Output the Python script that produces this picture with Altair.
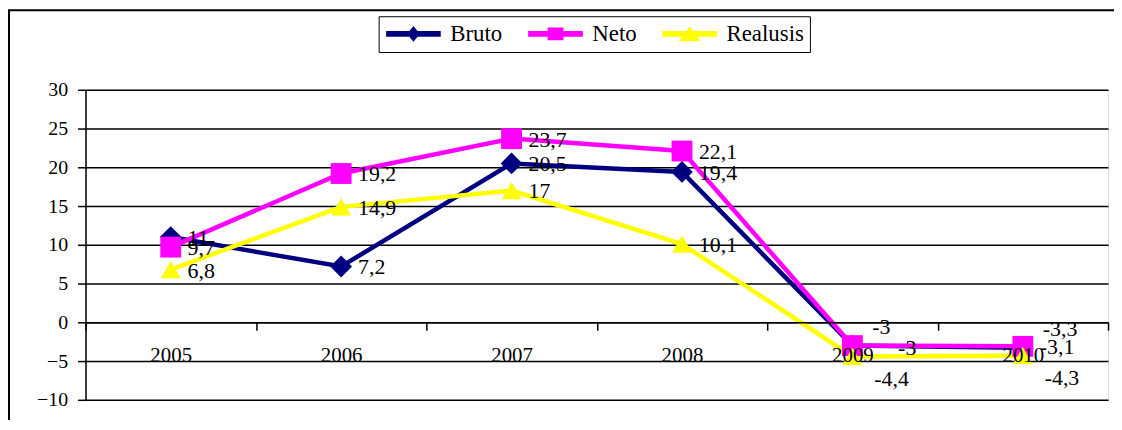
import altair as alt
import pandas as pd

years = ["2005", "2006", "2007", "2008", "2009", "2010"]
series = ["Bruto", "Neto", "Realusis"]
bruto = [11, 7.2, 20.5, 19.4, -3, -3.3]
neto = [9.7, 19.2, 23.7, 22.1, -3, -3.1]
realusis = [6.8, 14.9, 17, 10.1, -4.4, -4.3]
colors = ["#000080", "#FF00FF", "#FFFF00"]
y_ticks = [-10, -5, 0, 5, 10, 15, 20, 25, 30]

# label placement style (Excel-like nudges)
label_place = {
    ("Bruto", "2009"): "above", ("Bruto", "2010"): "above",
    ("Neto", "2009"): "farright",
    ("Realusis", "2009"): "below", ("Realusis", "2010"): "below",
}

rows = []
for name, vals in zip(series, [bruto, neto, realusis]):
    for yr, v in zip(years, vals):
        rows.append({"series": name, "year": yr, "value": v,
                     "place": label_place.get((name, yr), "right")})
df = pd.DataFrame(rows)
legend_df = pd.DataFrame({"series": series})

W, H = 1029, 312
FONT = "Liberation Serif"

x_enc = alt.X("year:N", sort=years,
              scale=alt.Scale(type="band", paddingInner=0, paddingOuter=0),
              axis=alt.Axis(title=None, orient="bottom", offset=-78, grid=False,
                            domainColor="black", domainWidth=1.5,
                            tickColor="black", tickWidth=1.5, tickSize=8,
                            tickBand="extent", labelAngle=0,
                            labelFont=FONT, labelFontSize=21, labelColor="black",
                            labelPadding=14, zindex=1))
y_enc = alt.Y("value:Q",
              scale=alt.Scale(domain=[-10, 30], nice=False, zero=False),
              axis=alt.Axis(title=None, values=y_ticks, grid=True,
                            gridColor="black", gridWidth=1.5,
                            domainColor="black", domainWidth=1.5,
                            tickColor="black", tickWidth=1.5, tickSize=8,
                            labelFont=FONT, labelFontSize=20, labelColor="black",
                            labelPadding=10))
color_scale = alt.Scale(domain=series, range=colors)

base = alt.Chart(df).encode(x=x_enc, y=y_enc)

lines = base.mark_line(strokeWidth=4.5).encode(
    color=alt.Color("series:N", scale=color_scale, legend=None),
    detail="series:N", order=alt.Order("year:N"))

points = base.mark_point(filled=True, opacity=1).encode(
    color=alt.Color("series:N", scale=color_scale, legend=None),
    shape=alt.Shape("series:N", scale=alt.Scale(domain=series,
                    range=["diamond", "square", "triangle-up"]), legend=None),
    size=alt.Size("series:N", scale=alt.Scale(domain=series, range=[480, 400, 560]),
                  legend=None))

lab_base = base.transform_calculate(
    label="replace(toString(datum.value), '.', ',')")
def labels(place, dx, dy):
    return lab_base.transform_filter(alt.datum.place == place).mark_text(
        align="left", baseline="middle", dx=dx, dy=dy, font=FONT,
        fontSize=22, color="black").encode(text="label:N")

lab_right = labels("right", 17, 1)
lab_above = labels("above", 20, -19)
lab_below = labels("below", 22, 23)
lab_far = labels("farright", 46, 2)

# legend symbols: a line segment with the series marker in its middle
line_seg = "M-1,-0.28H4.5V0.28H-1Z "
legend_paths = [
    line_seg + "M1.75,-0.8L2.4,0L1.75,0.8L1.1,0Z",
    line_seg + "M0.95,-0.65H2.55V0.65H0.95Z",
    line_seg + "M1.75,-0.75L2.85,0.75L0.65,0.75Z",
]
def make_leg():
    return alt.Legend(title=None, orient="none", legendX=295, legendY=-74,
                      direction="horizontal", labelFont=FONT, labelFontSize=23,
                      labelFontWeight="normal", labelColor="black", symbolSize=400,
                      symbolOpacity=1, symbolStrokeWidth=0, labelOffset=43,
                      columnPadding=24, padding=6, strokeColor="black",
                      fillColor="white")
# legend-only layer: its own marks sit outside the drawing, only the legend shows
legend_layer = alt.Chart(legend_df).mark_point(filled=True, opacity=1).encode(
    x=alt.value(-2000), y=alt.value(-2000),
    color=alt.Color("series:N", scale=color_scale, legend=make_leg()),
    shape=alt.Shape("series:N", scale=alt.Scale(domain=series, range=legend_paths),
                    legend=make_leg()))

frame = alt.Chart(pd.DataFrame({"a": [0]})).mark_rect(
    filled=False, stroke="black", strokeWidth=2).encode(
    x=alt.value(-77), x2=alt.value(W + 30), y=alt.value(-80), y2=alt.value(H + 60))

chart = alt.layer(frame, lines, points, lab_right, lab_above, lab_below, lab_far,
                  legend_layer).resolve_scale(
    color="independent", shape="independent", size="independent").properties(
    width=W, height=H,
    autosize=alt.AutoSizeParams(type="none"),
    padding={"left": 78, "top": 81, "right": 6, "bottom": 19},
).configure_view(stroke=None).configure(background="white").configure_legend(
    labelFont=FONT, labelFontWeight="normal")

chart.save("out.html", embed_options={"renderer": "svg", "actions": False})
